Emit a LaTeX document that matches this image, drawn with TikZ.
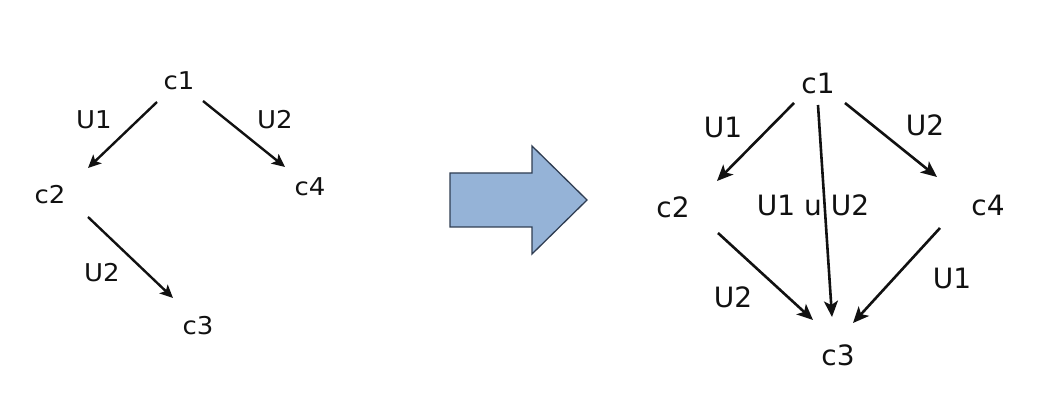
\documentclass[tikz,border=0pt]{standalone}
\usepackage{fontspec}
\setmainfont{DejaVu Sans}
\newfontfamily\widesans[FakeStretch=1.06]{DejaVu Sans}
\usetikzlibrary{arrows.meta,calc}
\definecolor{bigfill}{HTML}{95B3D7}
\definecolor{bigline}{HTML}{2F3D52}
\definecolor{ink}{HTML}{111111}
\begin{document}
\begin{tikzpicture}[x=1pt,y=-1pt,
  lbl/.style={inner sep=0pt,text=ink},
  small/.style={lbl,font=\widesans\fontsize{24.5}{28}\selectfont},
  big/.style={lbl,font=\fontsize{28}{33}\selectfont},
  arr/.style={draw=ink,line width=2.4pt,-{Stealth[length=13pt,width=12pt,inset=3pt]}},
  arrb/.style={draw=ink,line width=2.6pt,-{Stealth[length=16pt,width=14pt,inset=4pt]}}]
\useasboundingbox (0,0) rectangle (1052,411);
% left graph
\node[small] (lc1) at (179,81) {c1};
\node[small] (lc2) at (50,195) {c2};
\node[small] (lc4) at (310,187) {c4};
\node[small] (lc3) at (198,326) {c3};
\node[small] (lu1) at (94,120) {U1};
\node[small] (lu2a) at (275,120) {U2};
\node[small] (lu2b) at (102,273) {U2};
\draw[arr] ($(lc1)+(-22,21)$) -- ($(lc2)+(38,-27)$);
\draw[arr] ($(lc1)+(24,20)$) -- ($(lc4)+(-25,-20)$);
\draw[arr] ($(lc2)+(38,22)$) -- ($(lc3)+(-25,-28)$);
% big arrow
\draw[fill=bigfill,draw=bigline,line width=1.3pt,line join=miter]
  (450,173) -- (532,173) -- (532,146) -- (587,200) -- (532,254) -- (532,227) -- (450,227) -- cycle;
% right graph
\node[big] (rc1) at (818,83) {c1};
\node[big] (rc2) at (673,207) {c2};
\node[big] (rc4) at (988,205) {c4};
\node[big] (rc3) at (838,355) {c3};
\node[big] (ru1a) at (723,127) {U1};
\node[big] (ru2a) at (925,125) {U2};
\node[big] (ruu) at (813,205) {U1 u U2};
\node[big] (ru2b) at (733,297) {U2};
\node[big] (ru1b) at (952,278) {U1};
\draw[arrb] ($(rc1)+(-24,20)$) -- ($(rc2)+(44,-26)$);
\draw[arrb] ($(rc1)+(0,22)$) -- ($(rc3)+(-6,-38)$);
\draw[arrb] ($(rc1)+(27,20)$) -- ($(rc4)+(-51,-28)$);
\draw[arrb] ($(rc2)+(45,26)$) -- ($(rc3)+(-25,-35)$);
\draw[arrb] ($(rc4)+(-48,23)$) -- ($(rc3)+(15,-32)$);
\end{tikzpicture}
\end{document}
